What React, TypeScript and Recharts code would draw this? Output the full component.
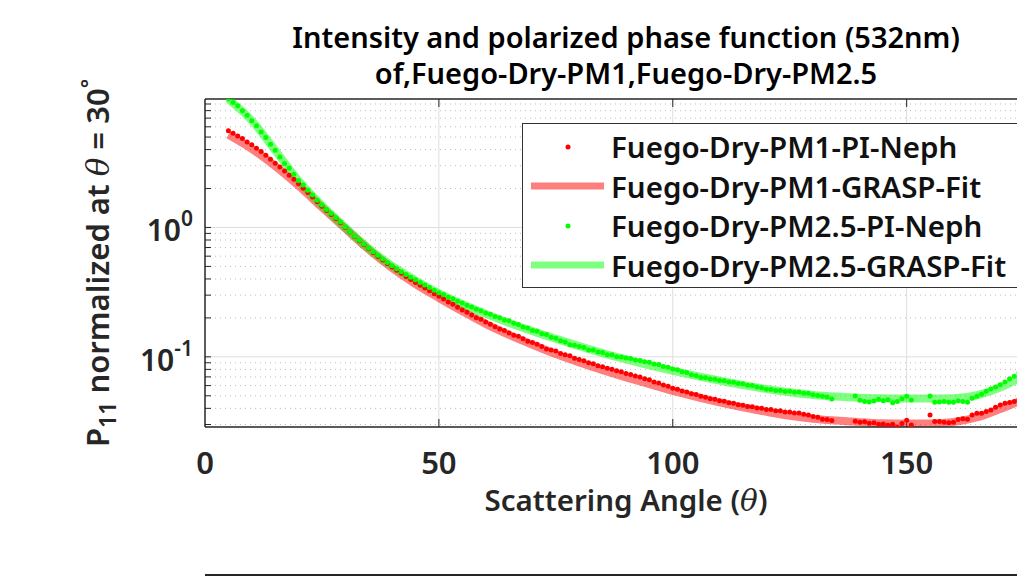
import React from "react"
import {
  ComposedChart, Line, Scatter, XAxis, YAxis, ReferenceLine, Legend,
} from "recharts"

// scattering angles of the PI-Neph points (5..175 deg, 1 deg step)
const nephAngles: number[] = Array.from({ length: 171 }, (_, i) => 5 + i)

const pm1Neph: (number | null)[] = [
  5.58, 5.35, 5.10, 4.87, 4.58,
  4.35, 4.10, 3.86, 3.62, 3.37, 3.13, 2.94, 2.73, 2.53, 2.36,
  2.18, 2.01, 1.86, 1.72, 1.58, 1.46, 1.35, 1.26, 1.17, 1.09,
  1.00, 0.923, 0.853, 0.791, 0.735, 0.684, 0.638, 0.597, 0.560, 0.526,
  0.495, 0.468, 0.442, 0.418, 0.396, 0.376, 0.357, 0.340, 0.324, 0.308,
  0.294, 0.280, 0.266, 0.255, 0.242, 0.230, 0.221, 0.211, 0.201, 0.195,
  0.186, 0.179, 0.171, 0.164, 0.160, 0.153, 0.147, 0.144, 0.138, 0.132,
  0.129, 0.125, 0.120, 0.115, 0.113, 0.111, 0.106, 0.104, 0.102, 0.0975,
  0.0955, 0.0935, 0.0900, 0.0885, 0.0855, 0.0840, 0.0815, 0.0802, 0.0780, 0.0766,
  0.0744, 0.0732, 0.0710, 0.0698, 0.0676, 0.0664, 0.0640, 0.0628, 0.0605, 0.0594,
  0.0572, 0.0563, 0.0545, 0.0535, 0.0519, 0.0511, 0.0495, 0.0488, 0.0474, 0.0470,
  0.0457, 0.0453, 0.0441, 0.0437, 0.0426, 0.0423, 0.0413, 0.0411, 0.0402, 0.0400,
  0.0392, 0.0391, 0.0383, 0.0383, 0.0375, 0.0375, 0.0368, 0.0368, 0.0360, 0.0356,
  0.0346, 0.0341, 0.0329, 0.0328, 0.0322, null, null, null, null, 0.0318,
  0.0313, 0.0315, 0.0307, 0.0310, 0.0302, 0.0303, 0.0296, 0.0301, 0.0287, 0.0305,
  0.0324, 0.0297, null, null, null, 0.0356, 0.0316, 0.0317, 0.0312, 0.0309,
  0.0313, 0.0328, 0.0333, 0.0329, 0.0356, 0.0367, 0.0366, 0.0378, 0.0388, 0.0407,
  0.0425, 0.0437, 0.0443, 0.0452, 0.0462, 0.0473,
]

const pm25Neph: (number | null)[] = [
  9.82, 9.26, 8.72, 7.97, 7.38,
  6.67, 6.10, 5.48, 4.96, 4.40, 3.95, 3.51, 3.12, 2.87, 2.58,
  2.31, 2.13, 1.94, 1.78, 1.62, 1.49, 1.38, 1.28, 1.19, 1.10,
  1.01, 0.925, 0.857, 0.796, 0.741, 0.692, 0.647, 0.607, 0.570, 0.537,
  0.507, 0.480, 0.455, 0.433, 0.412, 0.394, 0.376, 0.359, 0.343, 0.327,
  0.313, 0.303, 0.289, 0.281, 0.269, 0.261, 0.250, 0.243, 0.233, 0.227,
  0.218, 0.213, 0.205, 0.201, 0.193, 0.190, 0.182, 0.178, 0.170, 0.167,
  0.160, 0.158, 0.151, 0.149, 0.142, 0.139, 0.133, 0.130, 0.124, 0.123,
  0.120, 0.118, 0.113, 0.113, 0.109, 0.108, 0.104, 0.104, 0.100, 0.0998,
  0.0978, 0.0972, 0.0947, 0.0938, 0.0916, 0.0908, 0.0880, 0.0871, 0.0843, 0.0832,
  0.0806, 0.0795, 0.0768, 0.0756, 0.0728, 0.0715, 0.0692, 0.0688, 0.0673, 0.0671,
  0.0658, 0.0655, 0.0640, 0.0637, 0.0622, 0.0620, 0.0604, 0.0600, 0.0584, 0.0578,
  0.0563, 0.0560, 0.0550, 0.0550, 0.0541, 0.0543, 0.0533, 0.0534, 0.0524, 0.0523,
  0.0509, 0.0503, 0.0496, 0.0490, 0.0473, null, null, null, null, 0.0498,
  0.0462, 0.0452, 0.0447, 0.0455, 0.0470, 0.0457, 0.0466, 0.0442, 0.0452, 0.0475,
  0.0495, 0.0465, null, null, null, 0.0498, 0.0445, 0.0447, 0.0452, 0.0445,
  0.0445, 0.0457, 0.0452, 0.0445, 0.0479, 0.0495, 0.0513, 0.0543, 0.0565, 0.0586,
  0.0610, 0.0638, 0.0676, 0.0708, 0.0750, 0.0794,
]

// GRASP fits, every 5 deg
const fitAngles = [
  5, 10, 15, 20, 25, 30, 35, 40, 45, 50, 55, 60, 65, 70, 75, 80, 85, 90,
  95, 100, 105, 110, 115, 120, 125, 130, 135, 140, 145, 150, 155, 160, 165, 170, 175, 180,
]
const pm1Fit = [
  5.2, 4.05, 2.98, 2.1, 1.43, 0.98, 0.675, 0.485, 0.365, 0.285, 0.225, 0.18,
  0.148, 0.124, 0.105, 0.0905, 0.079, 0.0695, 0.0615, 0.0545, 0.049, 0.0445,
  0.0407, 0.0376, 0.035, 0.0333, 0.0322, 0.0313, 0.0307, 0.0305, 0.0306, 0.0314,
  0.034, 0.0395, 0.047, 0.056,
]
const pm25Fit = [
  9.8, 6.7, 3.95, 2.3, 1.48, 1.0, 0.69, 0.505, 0.39, 0.31, 0.255, 0.215,
  0.183, 0.158, 0.138, 0.121, 0.107, 0.0955, 0.086, 0.078, 0.0712, 0.0655,
  0.0605, 0.0565, 0.0533, 0.0508, 0.0493, 0.0483, 0.0478, 0.0477, 0.0476, 0.0478,
  0.0505, 0.058, 0.0705, 0.085,
]

const seriesNames = [
  "Fuego-Dry-PM1-PI-Neph",
  "Fuego-Dry-PM1-GRASP-Fit",
  "Fuego-Dry-PM2.5-PI-Neph",
  "Fuego-Dry-PM2.5-GRASP-Fit",
]
const titleLines = [
  "Intensity and polarized phase function (532nm)",
  "of,Fuego-Dry-PM1,Fuego-Dry-PM2.5",
]

const xTicks = [0, 50, 100, 150]
const yMajor = [0.1, 1]
const yMinor = [
  0.03, 0.04, 0.05, 0.06, 0.07, 0.08, 0.09,
  0.2, 0.3, 0.4, 0.5, 0.6, 0.7, 0.8, 0.9,
  2, 3, 4, 5, 6, 7, 8, 9,
]
const X_MAX = 180
const Y_MIN = 0.0287
const Y_MAX = 9.84

const FONT = "'Noto Sans', 'Open Sans', sans-serif"
const AX = "#262626"

const toPoints = (xs: number[], ys: (number | null)[]) =>
  xs.map((x, i) => ({ x, y: ys[i] })).filter((d) => d.y != null)

const pm1NephData = toPoints(nephAngles, pm1Neph)
const pm25NephData = toPoints(nephAngles, pm25Neph)
const pm1FitData = toPoints(fitAngles, pm1Fit)
const pm25FitData = toPoints(fitAngles, pm25Fit)

const XTick = ({ x, y, payload }: any) => (
  <text x={x} y={y} dy="0.71em" textAnchor="middle" fill={AX} fontSize={31} fontWeight={600} fontFamily={FONT}>
    {payload.value}
  </text>
)

const YTick = ({ x, y, payload }: any) => {
  const e = Math.round(Math.log10(payload.value))
  return (
    <text x={x} y={y + 14} textAnchor="end" fill={AX} fontSize={30} fontWeight={600} fontFamily={FONT}>
      10<tspan dy={-15} fontSize={21}>{e}</tspan>
    </text>
  )
}

const dot = (color: string) => (p: any) => <circle cx={p.cx} cy={p.cy} r={2.5} fill={color} />

const LegendBox = ({ payload }: any) => {
  const items = [...(payload || [])].sort(
    (a: any, b: any) => seriesNames.indexOf(a.value) - seriesNames.indexOf(b.value),
  )
  return (
    <div style={{
      width: 520, height: 165, boxSizing: "border-box", background: "#fff",
      border: "1.5px solid #333", paddingTop: 3, fontFamily: FONT,
    }}>
      {items.map((e: any) => (
        <div key={e.value} style={{ height: 39.5, display: "flex", alignItems: "center" }}>
          <svg width={88} height={12} style={{ flex: "none" }}>
            {e.type === "circle"
              ? <circle cx={45} cy={6} r={2.5} fill={e.color} />
              : <line x1={8} x2={81} y1={6} y2={6} stroke={e.color} strokeOpacity={0.5} strokeWidth={7} />}
          </svg>
          <span style={{ fontSize: 29.5, fontWeight: 600, color: "#111", whiteSpace: "nowrap" }}>{e.value}</span>
        </div>
      ))}
    </div>
  )
}

export default function App() {
  const tx = 6 / 4.68
  const ty = Math.pow(10, 8 / 129)
  const theta = { fontFamily: "'DejaVu Serif', serif", fontWeight: 400 }
  return (
    <div style={{ position: "fixed", left: 0, top: 0, width: 1017, height: 576, overflow: "hidden", background: "#fff", fontFamily: FONT }}>
      {titleLines.map((t, i) => (
        <div key={t} style={{
          position: "absolute", left: 0, width: 1252, top: 22 + i * 36, height: 30,
          textAlign: "center", fontSize: 29, fontWeight: 600, lineHeight: "30px", color: "#000",
        }}>
          {t}
        </div>
      ))}
      <ComposedChart width={1060} height={576} margin={{ top: 99, right: 13, bottom: 89, left: 125 }}>
        <XAxis
          type="number" dataKey="x" domain={[0, X_MAX]} ticks={xTicks} allowDataOverflow
          tick={<XTick />} tickSize={0} tickMargin={25} tickLine={false} height={60}
          axisLine={{ stroke: AX, strokeWidth: 1.5 }}
        />
        <YAxis
          type="number" dataKey="y" scale="log" domain={[Y_MIN, Y_MAX]} ticks={yMajor} allowDataOverflow
          tick={<YTick />} tickSize={0} tickMargin={12} tickLine={false} width={80}
          axisLine={{ stroke: AX, strokeWidth: 1.5 }}
        />
        {yMinor.map((v) => (
          <ReferenceLine key={"m" + v} y={v} stroke="#bdbdbd" strokeDasharray="1 4" />
        ))}
        {yMajor.map((v) => (
          <ReferenceLine key={"g" + v} y={v} stroke="#dedede" />
        ))}
        {xTicks.slice(1).map((v) => (
          <ReferenceLine key={"v" + v} x={v} stroke="#dedede" />
        ))}
        <ReferenceLine y={Y_MAX} stroke={AX} strokeWidth={1.5} />
        {[...yMajor, ...yMinor].map((v) => (
          <ReferenceLine key={"t" + v} segment={[{ x: 0, y: v }, { x: tx, y: v }]} stroke={AX} />
        ))}
        {xTicks.slice(1).map((v) => (
          <ReferenceLine key={"b" + v} segment={[{ x: v, y: Y_MIN }, { x: v, y: Y_MIN * ty }]} stroke={AX} />
        ))}
        {xTicks.slice(1).map((v) => (
          <ReferenceLine key={"u" + v} segment={[{ x: v, y: Y_MAX }, { x: v, y: Y_MAX / ty }]} stroke={AX} />
        ))}
        <Scatter name={seriesNames[0]} data={pm1NephData} dataKey="y" fill="#ff0000"
          legendType="circle" shape={dot("#ff0000")} isAnimationActive={false} />
        <Line name={seriesNames[1]} data={pm1FitData} dataKey="y" type="monotone"
          stroke="#ff0000" strokeOpacity={0.5} strokeWidth={8} dot={false} legendType="line" isAnimationActive={false} />
        <Scatter name={seriesNames[2]} data={pm25NephData} dataKey="y" fill="#00ff00"
          legendType="circle" shape={dot("#00ff00")} isAnimationActive={false} />
        <Line name={seriesNames[3]} data={pm25FitData} dataKey="y" type="monotone"
          stroke="#00ff00" strokeOpacity={0.5} strokeWidth={8} dot={false} legendType="line" isAnimationActive={false} />
        <Legend
          layout="horizontal" verticalAlign="middle" align="center"
          wrapperStyle={{ position: "absolute", left: 522, top: 123, width: 520, height: 165 }}
          content={<LegendBox />}
        />
      </ComposedChart>
      <div style={{ position: "absolute", left: 98, top: 263, transform: "translate(-50%, -50%) rotate(-90deg)", whiteSpace: "nowrap", fontSize: 31, fontWeight: 600, color: AX }}>
        P<sub style={{ fontSize: 23 }}>11</sub> normalized at <i style={theta}>θ</i> = 30<sup style={{ fontSize: 22 }}>°</sup>
      </div>
      <div style={{ position: "absolute", left: 0, width: 1252, top: 479, textAlign: "center", fontSize: 29.5, fontWeight: 600, color: AX }}>
        Scattering Angle (<i style={theta}>θ</i>)
      </div>
      <div style={{ position: "absolute", left: 205, top: 574, width: 900, height: 0, borderTop: `2px solid ${AX}` }} />
    </div>
  )
}
